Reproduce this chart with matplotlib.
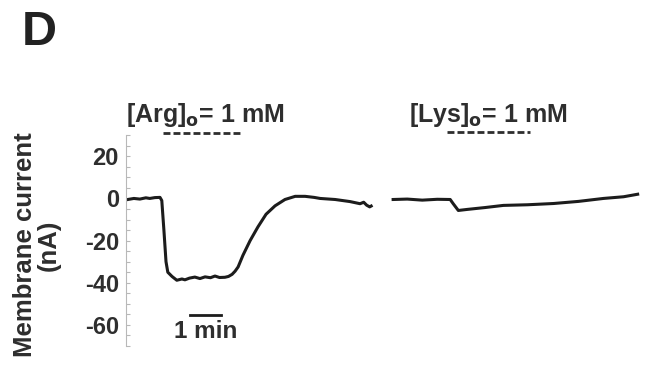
import numpy as np
import matplotlib
matplotlib.use('Agg')
import matplotlib.pyplot as plt

plt.rcParams['font.family'] = ['Liberation Sans', 'DejaVu Sans']
plt.rcParams['font.weight'] = 'bold'
plt.rcParams['mathtext.default'] = 'regular'
plt.rcParams['axes.unicode_minus'] = False

C_TRACE = '#1c1c1c'; C_TEXT = '#2e2e2e'; C_SPINE = '#b8b8b8'

# Arg trace: time (min), current (nA)
arg_t = [0.0, 0.2, 0.4, 0.6, 0.73, 0.9, 1.07, 1.13, 1.2, 1.27, 1.33, 1.47, 1.63, 1.8, 1.9, 2.05,
         2.23, 2.4, 2.57, 2.75, 2.9, 3.05, 3.23, 3.35, 3.47, 3.57, 3.67, 3.83, 4.07, 4.33, 4.6,
         4.9, 5.23, 5.57, 5.9, 6.2, 6.4, 6.9, 7.4, 7.73, 7.85, 7.95, 8.05, 8.1]
arg_i = [-0.5, 0.0, -0.3, 0.3, 0.0, 0.4, 0.5, -1.0, -15.0, -30.0, -35.0, -37.0, -38.8, -38.2, -38.6, -37.8,
         -37.3, -38.0, -37.2, -37.6, -36.8, -37.5, -37.4, -37.0, -36.0, -34.5, -32.5, -27.0, -20.0, -13.5, -7.5,
         -3.5, -0.5, 1.0, 1.0, 0.5, 0.0, -0.5, -1.5, -2.5, -1.8, -3.2, -4.0, -3.6]

# Lys trace
lys_t = [8.83, 9.3, 9.8, 10.3, 10.73, 10.83, 11.0, 11.3, 11.9, 12.5, 13.3, 14.17, 15.0, 15.83, 16.5, 16.97]
lys_i = [-0.5, -0.3, -0.8, -0.4, -0.5, -2.5, -5.7, -5.2, -4.3, -3.3, -3.0, -2.4, -1.4, 0.0, 0.8, 2.0]

arg_bar = (1.17, 3.8)
lys_bar = (10.63, 13.37)
scale_bar = (2.07, 3.1)
yticks = [20, 0, -20, -40, -60]

fig = plt.figure(figsize=(6.52, 3.66), dpi=100)
ax = fig.add_axes([0.193, 0.0546, 0.797, 0.576])
ax.plot(arg_t, arg_i, color=C_TRACE, lw=2.2, solid_joinstyle='round')
ax.plot(lys_t, lys_i, color=C_TRACE, lw=2.2, solid_joinstyle='round')
ax.set_xlim(-0.067, 17.23)
ax.set_ylim(-70, 30)
for s in ['top', 'right', 'bottom']:
    ax.spines[s].set_visible(False)
ax.spines['left'].set_color(C_SPINE)
ax.spines['left'].set_linewidth(0.8)
ax.set_xticks([])
ax.set_yticks(yticks)
ax.set_yticks(np.arange(-70, 31, 5), minor=True)
ax.tick_params(axis='y', which='both', direction='in', color=C_SPINE, length=3, width=0.8,
               labelsize=17, labelcolor=C_TEXT, pad=5)
for lab in ax.get_yticklabels():
    lab.set_fontweight('bold')

# application bars
ax.plot(arg_bar, [31, 31], color=C_TEXT, lw=2.0, ls=(0, (2.5, 1.1)), clip_on=False)
ax.plot(lys_bar, [31.5, 31.5], color=C_TEXT, lw=2.0, ls=(0, (2.5, 1.1)), clip_on=False)
ax.text(-0.05, 33, r'[Arg]$_\mathbf{o}$= 1 mM', fontsize=18, fontweight='bold', color=C_TEXT,
        ha='left', va='bottom')
ax.text(9.37, 33, r'[Lys]$_\mathbf{o}$= 1 mM', fontsize=18, fontweight='bold', color=C_TEXT,
        ha='left', va='bottom')

# scale bar
ax.plot(scale_bar, [-55.2, -55.2], color=C_TRACE, lw=2.0)
ax.text(np.mean(scale_bar), -57.5, '1 min', fontsize=17.5, fontweight='bold', color=C_TEXT,
        ha='center', va='top')

fig.text(0.057, 0.331, 'Membrane current\n(nA)', rotation=90, fontsize=18.5, fontweight='bold',
         color=C_TEXT, ha='center', va='center', linespacing=1.0)
fig.text(0.033, 0.911, 'D', fontsize=35, fontweight='bold', color='#222222', ha='left', va='center')

fig.savefig('out.png', dpi=100)
